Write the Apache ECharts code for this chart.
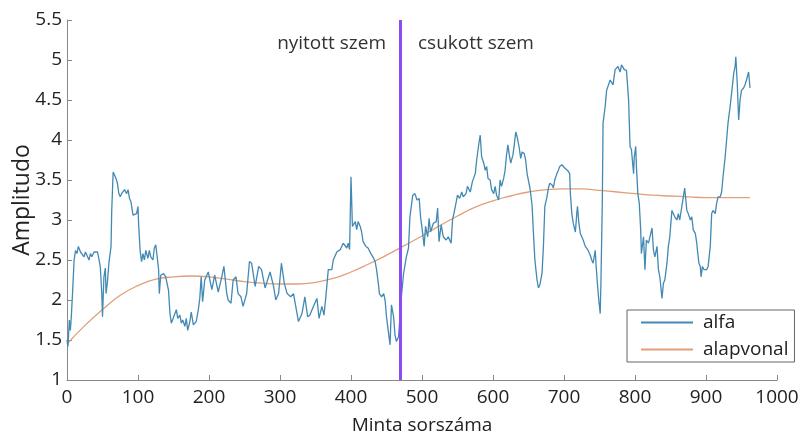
<!DOCTYPE html>
<html>
<head>
<meta charset="utf-8">
<script src="https://cdn.jsdelivr.net/npm/echarts@6/dist/echarts.min.js"></script>
<style>
    html, body { margin: 0; padding: 0; background: #fff; }
    #chart { width: 798px; height: 435px; }
</style>
</head>
<body>
<div id="chart"></div>
<script>
// alfa: sample index / amplitude
const alfaX = [0, 1.4, 3.3, 4.7, 6.1, 8, 10, 12, 14, 16, 19, 21, 24, 26, 28, 31, 33, 35, 38, 40,
    43, 46, 47, 49, 50, 52, 54, 55, 57, 59, 62, 63, 65, 67, 69, 71, 73, 75, 77, 79,
    81, 84, 86, 88, 90, 93, 95, 98, 100, 101, 103, 105, 107, 109, 111, 114, 116, 118, 121, 123,
    125, 127, 129, 130, 132, 134, 136, 139, 141, 143, 145, 147, 149, 152, 154, 156, 159, 161, 163, 166,
    168, 170, 173, 175, 178, 180, 182, 185, 187, 189, 191, 194, 199, 204, 208, 213, 218, 221, 225, 227,
    231, 234, 238, 241, 245, 248, 253, 257, 260, 265, 270, 274, 279, 286, 291, 294, 298, 302, 306, 310,
    315, 319, 323, 326, 331, 335, 339, 342, 347, 352, 355, 359, 362, 365, 368, 373, 375, 380, 385, 389,
    394, 396, 398, 400, 402, 406, 408, 410, 413, 415, 417, 421, 424, 428, 432, 434, 436, 439, 440, 443,
    446, 448, 450, 453, 455, 457, 460, 462, 464, 467, 471, 474, 478, 481, 483, 487, 490, 493, 496, 498,
    501, 503, 505, 508, 510, 512, 516, 520, 522, 524, 527, 530, 534, 537, 541, 543, 547, 550, 553, 556,
    558, 562, 564, 568, 571, 575, 577, 580, 582, 584, 587, 589, 591, 593, 596, 598, 601, 603, 605, 608,
    610, 612, 615, 617, 619, 621, 623, 625, 628, 630, 632, 634, 637, 639, 641, 644, 646, 648, 652, 655,
    657, 659, 662, 664, 666, 669, 671, 673, 676, 678, 680, 683, 685, 687, 690, 692, 694, 697, 699, 701,
    705, 708, 709, 711, 713, 716, 718, 719, 721, 723, 725, 727, 730, 732, 734, 737, 739, 741, 744, 745,
    747, 749, 751, 752, 754, 755, 758, 760, 765, 769, 772, 776, 779, 781, 785, 788, 791, 793, 795, 798,
    799, 801, 802, 804, 806, 808, 809, 812, 814, 816, 819, 821, 824, 826, 828, 831, 833, 835, 838, 840,
    842, 845, 847, 849, 852, 854, 856, 859, 861, 863, 866, 868, 870, 873, 875, 878, 880, 882, 885, 887,
    888, 890, 892, 893, 895, 897, 899, 901, 903, 906, 908, 910, 913, 915, 917, 920, 922, 924, 927, 929,
    931, 934, 936, 939, 941, 942, 944, 946, 948, 950, 953, 955, 957, 960, 962];
const alfaY = [1.50, 1.42, 1.75, 1.62, 1.79, 2.12, 2.50, 2.62, 2.58, 2.67, 2.60, 2.62, 2.54, 2.60, 2.56, 2.50, 2.58, 2.54, 2.60, 2.62,
    2.60, 2.46, 2.40, 2.08, 1.79, 2.29, 2.40, 2.08, 2.23, 2.46, 2.67, 3.12, 3.60, 3.58, 3.52, 3.46, 3.33, 3.29, 3.33, 3.31,
    3.38, 3.33, 3.38, 3.27, 3.23, 3.06, 3.04, 3.08, 3.17, 2.92, 2.62, 2.48, 2.58, 2.50, 2.62, 2.52, 2.62, 2.54, 2.50, 2.65,
    2.69, 2.54, 2.38, 2.08, 2.31, 2.29, 2.33, 2.29, 2.27, 2.12, 1.83, 1.71, 1.71, 1.83, 1.88, 1.77, 1.81, 1.71, 1.75, 1.67,
    1.77, 1.62, 1.73, 1.85, 1.69, 1.67, 1.73, 1.88, 2.02, 2.29, 1.98, 2.25, 2.35, 2.13, 2.31, 2.10, 2.29, 2.42, 2.08, 2.00,
    1.96, 2.25, 2.29, 2.08, 2.04, 1.92, 2.08, 2.48, 2.46, 2.17, 2.42, 2.38, 2.15, 2.35, 2.17, 2.00, 2.08, 2.46, 2.21, 2.08,
    2.04, 2.08, 1.88, 1.73, 1.83, 2.04, 1.79, 1.81, 1.92, 2.02, 1.77, 1.92, 1.81, 2.08, 2.38, 2.38, 2.50, 2.60, 2.63, 2.71,
    2.65, 2.71, 2.63, 3.54, 2.92, 2.98, 2.88, 2.98, 2.92, 2.85, 2.73, 2.67, 2.65, 2.58, 2.52, 2.48, 2.38, 2.17, 2.08, 2.04,
    2.08, 2.00, 1.79, 1.58, 1.44, 1.94, 1.79, 1.56, 1.48, 1.54, 2.04, 2.33, 2.54, 2.65, 3.04, 3.31, 3.33, 3.25, 3.27, 3.04,
    2.83, 2.67, 2.92, 2.79, 3.02, 2.85, 2.96, 2.98, 3.15, 2.73, 2.94, 2.79, 2.75, 2.79, 2.71, 3.00, 3.17, 3.31, 3.27, 3.35,
    3.29, 3.33, 3.42, 3.35, 3.48, 3.58, 3.75, 3.95, 4.06, 3.79, 3.71, 3.62, 3.67, 3.52, 3.50, 3.38, 3.33, 3.42, 3.31, 3.25,
    3.50, 3.42, 3.52, 3.62, 3.81, 3.94, 3.81, 3.71, 3.81, 3.94, 4.10, 4.04, 3.90, 3.77, 3.85, 3.83, 3.75, 3.58, 3.40, 3.19,
    2.83, 2.50, 2.25, 2.15, 2.19, 2.33, 2.67, 3.17, 3.29, 3.40, 3.46, 3.44, 3.40, 3.50, 3.58, 3.62, 3.67, 3.69, 3.67, 3.65,
    3.62, 3.58, 3.33, 3.08, 2.96, 2.85, 3.08, 3.17, 2.96, 2.83, 2.79, 2.75, 2.67, 2.69, 2.62, 2.56, 2.50, 2.46, 2.62, 2.46,
    2.21, 2.00, 1.83, 2.21, 3.25, 4.21, 4.42, 4.62, 4.75, 4.69, 4.88, 4.92, 4.85, 4.94, 4.88, 4.87, 4.50, 3.92, 3.88, 3.58,
    3.79, 3.92, 3.67, 3.33, 3.21, 2.88, 2.58, 2.79, 2.38, 2.75, 2.71, 2.79, 2.90, 2.62, 2.54, 2.67, 2.38, 2.29, 2.02, 2.21,
    2.25, 2.46, 2.67, 2.79, 3.12, 3.10, 3.04, 3.00, 3.08, 3.00, 3.17, 3.17, 3.40, 3.12, 3.08, 3.00, 3.04, 2.88, 2.83, 2.71,
    2.62, 2.46, 2.42, 2.29, 2.42, 2.38, 2.38, 2.38, 2.42, 2.67, 3.08, 3.12, 3.08, 3.21, 3.29, 3.29, 3.35, 3.54, 3.79, 4.00,
    4.21, 4.42, 4.58, 4.83, 4.92, 5.04, 4.71, 4.25, 4.50, 4.62, 4.65, 4.69, 4.75, 4.85, 4.65];

// alapvonal (baseline)
const baseX = [0, 25, 50, 75, 100, 125, 150, 175, 200, 225, 250, 275, 300, 325, 350, 375, 400, 425, 450, 475,
    500, 525, 550, 575, 600, 625, 650, 675, 700, 725, 750, 775, 800, 825, 850, 875, 900, 925, 950, 962];
const baseY = [1.45, 1.68, 1.88, 2.06, 2.18, 2.26, 2.29, 2.30, 2.29, 2.26, 2.23, 2.21, 2.20, 2.20, 2.22, 2.27, 2.35, 2.45, 2.56, 2.68,
    2.80, 2.93, 3.05, 3.16, 3.24, 3.30, 3.35, 3.38, 3.39, 3.39, 3.37, 3.35, 3.33, 3.31, 3.30, 3.29, 3.28, 3.28, 3.28, 3.28];

const splitAt = 469;
const leftLabel = "nyitott szem";
const rightLabel = "csukott szem";

const font = "'Open Sans', 'Noto Sans', sans-serif";

const chart = echarts.init(document.getElementById("chart"));

chart.setOption({
    animation: false,
    textStyle: { fontFamily: font },
    grid: { left: 67, right: 21, top: 20, bottom: 55, outerBoundsMode: "none", containLabel: false },
    legend: {
        orient: "vertical",
        left: 627,
        top: 310,
        icon: "rect",
        itemWidth: 52,
        itemHeight: 2,
        itemGap: 8,
        padding: [3, 6, 3, 14],
        borderColor: "#666",
        borderWidth: 1,
        textStyle: { fontSize: 19, color: "#222", fontFamily: font, padding: [0, 0, 0, 5] },
        data: ["alfa", "alapvonal"]
    },
    xAxis: {
        type: "value",
        min: 0,
        max: 1000,
        interval: 100,
        name: "Minta sorszáma",
        nameLocation: "middle",
        nameGap: 36,
        nameMoveOverlap: false,
        nameTextStyle: { fontSize: 19, color: "#222" },
        axisLine: { lineStyle: { color: "#888" } },
        axisTick: { inside: true, length: 5, lineStyle: { color: "#888" } },
        axisLabel: { fontSize: 19, color: "#222", margin: 8, formatter: v => String(v) },
        splitLine: { show: false }
    },
    yAxis: {
        type: "value",
        min: 1,
        max: 5.5,
        interval: 0.5,
        name: "Amplitudo",
        nameLocation: "middle",
        nameGap: 33,
        nameMoveOverlap: false,
        nameTextStyle: { fontSize: 23, color: "#222" },
        axisLine: { show: true, lineStyle: { color: "#888" } },
        axisTick: { show: true, inside: true, length: 5, lineStyle: { color: "#888" } },
        axisLabel: { fontSize: 19, color: "#222", margin: 5 },
        splitLine: { show: false }
    },
    graphic: [
        {
            type: "text",
            right: 798 - 386,
            top: 34,
            style: { text: leftLabel, fontSize: 19, fill: "#333", fontFamily: font }
        },
        {
            type: "text",
            left: 418,
            top: 34,
            style: { text: rightLabel, fontSize: 19, fill: "#333", fontFamily: font }
        }
    ],
    series: [
        {
            name: "alfa",
            type: "line",
            symbol: "none",
            data: alfaX.map((x, i) => [x, alfaY[i]]),
            lineStyle: { color: "#4289b4", width: 1.3 },
            itemStyle: { color: "#4289b4" },
            markLine: {
                silent: true,
                symbol: "none",
                label: { show: false },
                lineStyle: { color: "#8b4cf2", width: 3, type: "solid" },
                data: [{ xAxis: splitAt }]
            },
            z: 3
        },
        {
            name: "alapvonal",
            type: "line",
            symbol: "none",
            smooth: true,
            data: baseX.map((x, i) => [x, baseY[i]]),
            lineStyle: { color: "#e0a07a", width: 1.3 },
            itemStyle: { color: "#e0a07a" },
            z: 2
        }
    ]
});
</script>
</body>
</html>
